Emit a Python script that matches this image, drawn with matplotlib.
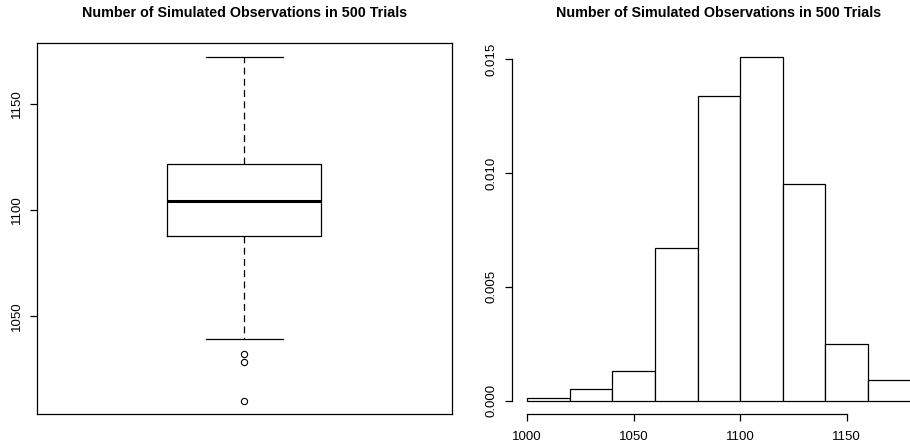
import matplotlib
matplotlib.use("Agg")
import matplotlib.pyplot as plt
import numpy as np

plt.rcParams['font.family'] = ['Liberation Sans', 'DejaVu Sans']

title = "Number of Simulated Observations in 500 Trials"

# Boxplot summary (number of observations)
box_q1 = 1087.5
box_median = 1104
box_q3 = 1121.5
box_whislo = 1039
box_whishi = 1172
box_fliers = [1032, 1028, 1010]

# Histogram (density, bin width 20)
bin_edges = [1000, 1020, 1040, 1060, 1080, 1100, 1120, 1140, 1160, 1180]
bin_counts = [1, 5, 13, 67, 134, 151, 95, 25, 9]
n_trials = 500

W, H = 910, 444
fig = plt.figure(figsize=(W / 100, H / 100), dpi=100)

lw = 0.9
tfs = 10.3
lfs = 9.5
# ---------------- left: boxplot ----------------
axL = fig.add_axes([36.7 / W, (H - 414.3) / H, 415 / W, 371 / H])
stats = [dict(med=box_median, q1=box_q1, q3=box_q3, whislo=box_whislo,
              whishi=box_whishi, fliers=box_fliers)]
axL.bxp(stats, positions=[1], widths=0.4, capwidths=[0.2],
        boxprops=dict(color='black', linewidth=lw),
        medianprops=dict(color='black', linewidth=2.2, solid_capstyle='butt'),
        whiskerprops=dict(color='black', linewidth=lw, linestyle=(0, (5.5, 3.5))),
        capprops=dict(color='black', linewidth=lw),
        flierprops=dict(marker='o', markerfacecolor='none', markeredgecolor='black',
                        markersize=4.5, markeredgewidth=0.8))
lo = min(box_fliers + [box_whislo]); hi = max(box_fliers + [box_whishi])
pad = (hi - lo) * 0.04
axL.set_ylim(lo - pad, hi + pad)
axL.set_xlim(0.46, 1.54)
axL.set_xticks([])
axL.set_yticks([1050, 1100, 1150])
axL.set_yticklabels(['1050', '1100', '1150'], rotation=90, va='center')
axL.tick_params(axis='y', length=5, width=lw, pad=5, labelsize=lfs, color='black')
for s in axL.spines.values():
    s.set_linewidth(lw)
fig.text(244.2 / W, (H - 13) / H, title, ha='center', va='center',
         fontsize=tfs, fontweight='bold')

# ---------------- right: histogram ----------------
axR = fig.add_axes([511.7 / W, (H - 414.3) / H, 414.3 / W, 371 / H])
edges = np.array(bin_edges, dtype=float)
dens = np.array(bin_counts, dtype=float) / (n_trials * np.diff(edges))
axR.bar(edges[:-1], dens, width=np.diff(edges), align='edge',
        facecolor='white', edgecolor='black', linewidth=lw)
xr = edges[-1] - edges[0]
axR.set_xlim(edges[0] - 0.04 * xr, edges[-1] + 0.04 * xr)
ymax = dens.max()
axR.set_ylim(-0.04 * ymax, ymax * 1.04)
axR.spines['top'].set_visible(False)
axR.spines['right'].set_visible(False)
axR.spines['left'].set_bounds(0, 0.015)
axR.spines['bottom'].set_bounds(1000, 1150)
axR.spines['left'].set_linewidth(lw)
axR.spines['bottom'].set_linewidth(lw)
axR.set_xticks([1000, 1050, 1100, 1150])
axR.set_xticklabels(['1000', '1050', '1100', '1150'])
axR.set_yticks([0.0, 0.005, 0.010, 0.015])
axR.set_yticklabels(['0.000', '0.005', '0.010', '0.015'], rotation=90, va='center')
axR.tick_params(axis='both', length=5, width=lw, pad=5, labelsize=lfs, color='black')
axR.tick_params(axis='x', pad=7)
fig.text(718.9 / W, (H - 13) / H, title, ha='center', va='center',
         fontsize=tfs, fontweight='bold')

fig.savefig('out.png', dpi=100)
